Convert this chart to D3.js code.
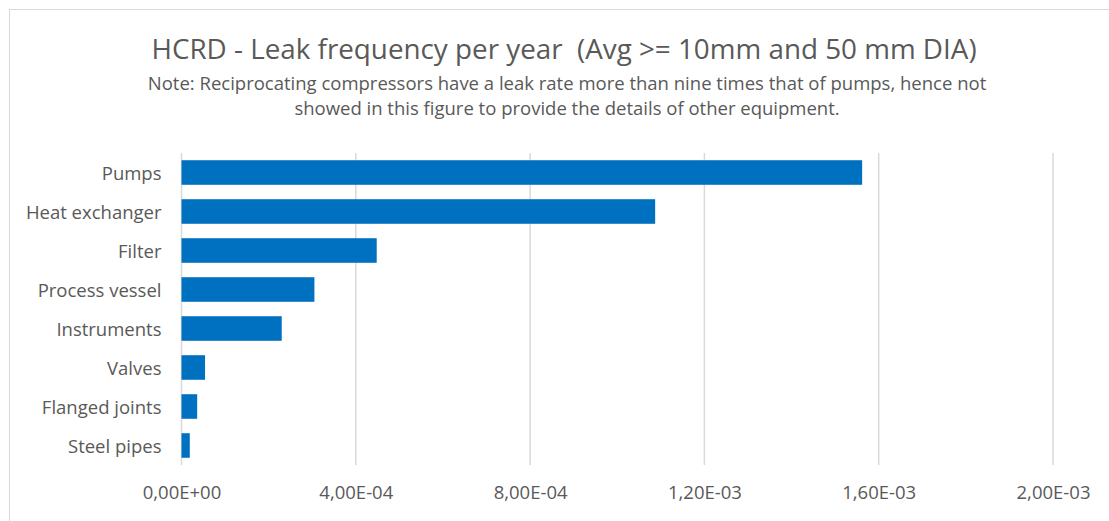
<!DOCTYPE html>
<html>
<head>
<meta charset="utf-8">
<script src="https://cdn.jsdelivr.net/npm/d3@7/dist/d3.min.js"></script>
<style>
  html, body { margin: 0; padding: 0; background: #ffffff; }
  svg { display: block; }
  text { font-family: "Open Sans", "Noto Sans", sans-serif; fill: #595959; }
</style>
</head>
<body>
<svg id="chart" width="1109" height="521"></svg>
<script>
// Equipment categories, top to bottom
const categories = [
  "Pumps", "Heat exchanger", "Filter", "Process vessel",
  "Instruments", "Valves", "Flanged joints", "Steel pipes"
];
// Leak frequency per year for each category
const leakFrequency = [
  1.562e-3, 1.087e-3, 4.48e-4, 3.05e-4,
  2.30e-4, 5.4e-5, 3.6e-5, 1.9e-5
];
// Axis ticks and their labels (comma as decimal separator)
const tickValues = [0, 4e-4, 8e-4, 1.2e-3, 1.6e-3, 2.0e-3];
const tickLabels = ["0,00E+00", "4,00E-04", "8,00E-04", "1,20E-03", "1,60E-03", "2,00E-03"];

const titleText = "HCRD - Leak frequency per year\u00a0\u00a0(Avg >= 10mm and 50 mm DIA)";
const noteLines = [
  "Note: Reciprocating compressors have a leak rate more than nine times that of pumps, hence not",
  "showed in this figure to provide the details of other equipment."
];

const data = categories.map((c, i) => ({ category: c, value: leakFrequency[i] }));

const svg = d3.select("#chart");
const W = 1109, H = 521;
const plot = { left: 181.5, right: 1053, top: 153, bottom: 465 };

// Chart frame
svg.append("rect")
  .attr("x", 9.5).attr("y", 9.5)
  .attr("width", W + 10).attr("height", H + 10)
  .attr("fill", "#ffffff")
  .attr("stroke", "#d9d9d9").attr("stroke-width", 1);

// Title and note
svg.append("text")
  .attr("x", 564).attr("y", 59)
  .attr("text-anchor", "middle")
  .style("font-size", "27.8px")
  .text(titleText);

svg.selectAll("text.note")
  .data(noteLines)
  .join("text")
  .attr("class", "note")
  .attr("x", 567)
  .attr("y", (d, i) => 90 + i * 25)
  .attr("text-anchor", "middle")
  .style("font-size", "18.5px")
  .text(d => d);

// Scales
const x = d3.scaleLinear().domain([0, 2e-3]).range([plot.left, plot.right]);
const y = d3.scaleBand().domain(categories).range([plot.top, plot.bottom])
  .paddingInner(0.37).paddingOuter(0.185);

// Vertical gridlines
svg.append("g")
  .attr("class", "grid")
  .selectAll("line")
  .data(tickValues)
  .join("line")
  .attr("x1", d => x(d)).attr("x2", d => x(d))
  .attr("y1", plot.top).attr("y2", plot.bottom)
  .attr("stroke", "#d9d9d9").attr("stroke-width", 1.5);

// Bars
svg.append("g")
  .selectAll("rect")
  .data(data)
  .join("rect")
  .attr("x", x(0))
  .attr("y", d => y(d.category))
  .attr("width", d => x(d.value) - x(0))
  .attr("height", y.bandwidth())
  .attr("fill", "#0070c0");

// Category axis (labels only)
const yAxis = svg.append("g")
  .attr("transform", `translate(${plot.left - 20},1.5)`)
  .call(d3.axisLeft(y).tickSize(0).tickPadding(0));
yAxis.select(".domain").remove();
yAxis.selectAll("text")
  .style("font-size", "18.5px")
  .style("fill", "#595959")
  .style("font-family", "'Open Sans', 'Noto Sans', sans-serif");

// Value axis (labels only)
const xAxis = svg.append("g")
  .attr("transform", `translate(0,${plot.bottom})`)
  .call(d3.axisBottom(x).tickValues(tickValues)
    .tickFormat((d, i) => tickLabels[i]).tickSize(0).tickPadding(21));
xAxis.select(".domain").remove();
xAxis.selectAll("text")
  .style("font-size", "18.5px")
  .style("fill", "#595959")
  .style("font-family", "'Open Sans', 'Noto Sans', sans-serif");
</script>
</body>
</html>
